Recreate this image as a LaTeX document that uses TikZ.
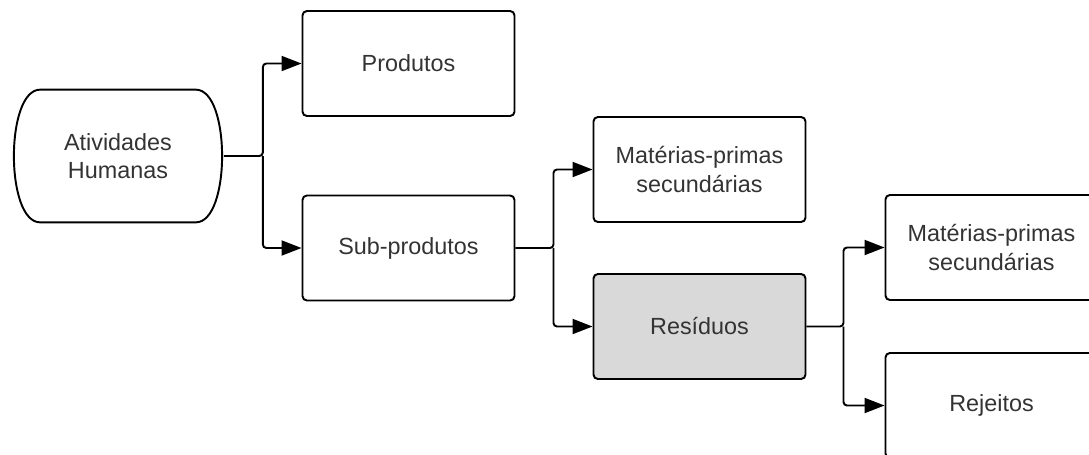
\documentclass[tikz,border=0pt]{standalone}
\usepackage{fontspec}
\setmainfont{Liberation Sans}
\usetikzlibrary{arrows.meta,positioning,calc}
\definecolor{boxgray}{RGB}{217,217,217}
\definecolor{txtgray}{RGB}{51,51,51}

\begin{document}
\begin{tikzpicture}[
  every node/.style={font=\fontsize{13.3}{16}\selectfont,text=txtgray,align=center},
  box/.style={draw,line width=1.1pt,rounded corners=2.5pt,minimum width=4.24cm,minimum height=2.1cm},
  arr/.style={-{Triangle[length=4mm,width=3mm]},line width=1.1pt,rounded corners=2pt},
]

%% Page frame
\useasboundingbox (0,0) rectangle (21.78,-9.08);
\clip (0,0) rectangle (21.78,-9.08);

%% Start terminal
\node[minimum width=4.22cm,minimum height=2.64cm] (ativ) at (2.36,-3.12) {Atividades\\Humanas};
\draw[line width=1.1pt]
  ([xshift=0.56cm]ativ.north west) -- ([xshift=-0.56cm]ativ.north east)
  .. controls +(0.7,0) and +(0.7,0) .. ([xshift=-0.56cm]ativ.south east)
  -- ([xshift=0.56cm]ativ.south west)
  .. controls +(-0.7,0) and +(-0.7,0) .. ([xshift=0.56cm]ativ.north west) -- cycle;

%% Boxes
\node[box] (prod) at (8.17,-1.27) {Produtos};
\node[box] (sub)  at (8.17,-4.96) {Sub-produtos};
\node[box] (mat1) at (13.99,-3.39) {Matérias-primas\\secundárias};
\node[box,fill=boxgray] (res) at (13.99,-6.53) {Resíduos};
\node[box] (mat2) at (19.83,-4.95) {Matérias-primas\\secundárias};
\node[box] (rej)  at (19.83,-8.11) {Rejeitos};

%% Junctions
\coordinate (j1) at ($(ativ.east)+(0.78,0)$);
\coordinate (j2) at ($(sub.east)+(0.76,0)$);
\coordinate (j3) at ($(res.east)+(0.74,0)$);

%% Connectors
\draw[arr] (ativ.east) -- (j1) |- (prod.west);
\draw[arr] (j1) |- (sub.west);
\draw[arr] (sub.east) -- (j2) |- (mat1.west);
\draw[arr] (j2) |- (res.west);
\draw[arr] (res.east) -- (j3) |- (mat2.west);
\draw[arr] (j3) |- (rej.west);

\end{tikzpicture}
\end{document}
